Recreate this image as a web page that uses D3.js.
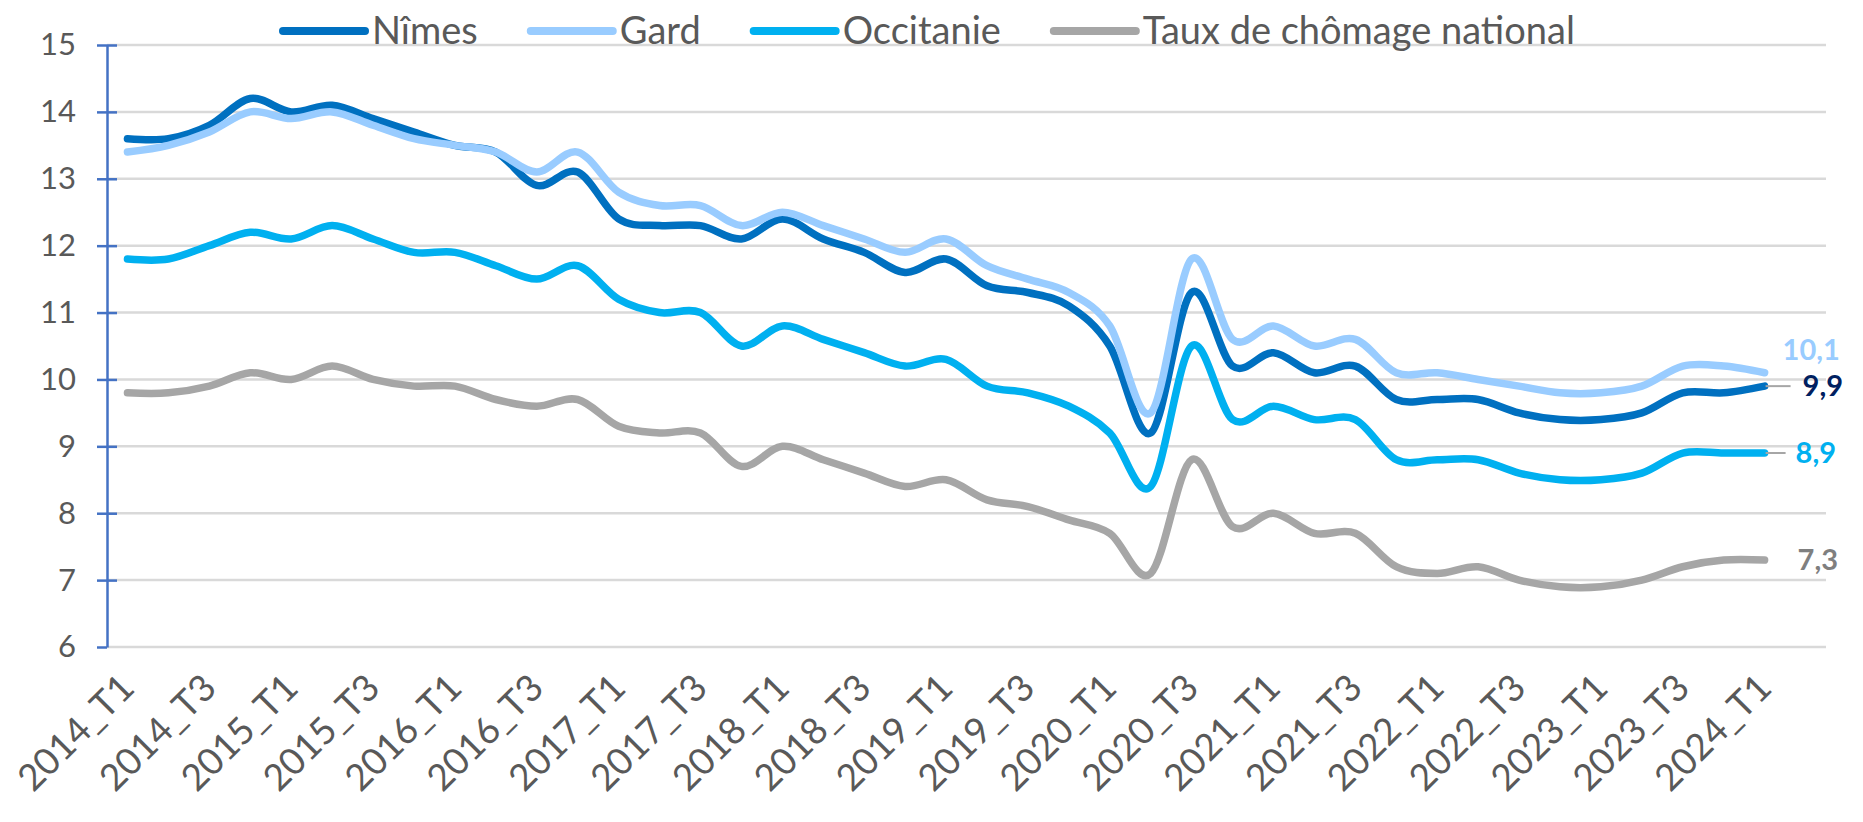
<!DOCTYPE html>
<html>
<head>
<meta charset="utf-8">
<script src="https://cdn.jsdelivr.net/npm/d3@7"></script>
<style>
  body { margin: 0; background: #fff; }
  text { font-family: Lato, "Open Sans", sans-serif; }
</style>
</head>
<body>
<svg id="chart"></svg>
<script>
// quarters on the x axis (Excel left one empty slot after the last one)
const quarters = [
  "2014_T1","2014_T2","2014_T3","2014_T4","2015_T1","2015_T2","2015_T3","2015_T4",
  "2016_T1","2016_T2","2016_T3","2016_T4","2017_T1","2017_T2","2017_T3","2017_T4",
  "2018_T1","2018_T2","2018_T3","2018_T4","2019_T1","2019_T2","2019_T3","2019_T4",
  "2020_T1","2020_T2","2020_T3","2020_T4","2021_T1","2021_T2","2021_T3","2021_T4",
  "2022_T1","2022_T2","2022_T3","2022_T4","2023_T1","2023_T2","2023_T3","2023_T4",
  "2024_T1"
];

const nimes = [13.6,13.6,13.8,14.2,14.0,14.1,13.9,13.7,13.5,13.4,12.9,13.1,12.4,12.3,12.3,12.1,
  12.4,12.1,11.9,11.6,11.8,11.4,11.3,11.1,10.5,9.2,11.3,10.2,10.4,10.1,10.2,9.7,
  9.7,9.7,9.5,9.4,9.4,9.5,9.8,9.8,9.9];
const gard = [13.4,13.5,13.7,14.0,13.9,14.0,13.8,13.6,13.5,13.4,13.1,13.4,12.8,12.6,12.6,12.3,
  12.5,12.3,12.1,11.9,12.1,11.7,11.5,11.3,10.8,9.5,11.8,10.6,10.8,10.5,10.6,10.1,
  10.1,10.0,9.9,9.8,9.8,9.9,10.2,10.2,10.1];
const occitanie = [11.8,11.8,12.0,12.2,12.1,12.3,12.1,11.9,11.9,11.7,11.5,11.7,11.2,11.0,11.0,10.5,
  10.8,10.6,10.4,10.2,10.3,9.9,9.8,9.6,9.2,8.4,10.5,9.4,9.6,9.4,9.4,8.8,
  8.8,8.8,8.6,8.5,8.5,8.6,8.9,8.9,8.9];
const national = [9.8,9.8,9.9,10.1,10.0,10.2,10.0,9.9,9.9,9.7,9.6,9.7,9.3,9.2,9.2,8.7,
  9.0,8.8,8.6,8.4,8.5,8.2,8.1,7.9,7.7,7.1,8.8,7.8,8.0,7.7,7.7,7.2,
  7.1,7.2,7.0,6.9,6.9,7.0,7.2,7.3,7.3];

const seriesNames = ["Nîmes", "Gard", "Occitanie", "Taux de chômage national"];
const seriesColors = ["#0070C0", "#99CCFF", "#00B0F0", "#A6A6A6"];
const labelColors = ["#002060", "#99CCFF", "#00B0F0", "#7F7F7F"];
const yTicks = [6, 7, 8, 9, 10, 11, 12, 13, 14, 15];

var series = [nimes, gard, occitanie, national];

var width = 1863, height = 822;
var plot = {left: 107, right: 1826, top: 45, bottom: 647};

var svg = d3.select("#chart")
    .attr("width", width)
    .attr("height", height);

var x = d3.scaleBand()
    .domain(d3.range(quarters.length + 1))
    .range([plot.left, plot.right]);
var cx = i => x(i) + x.bandwidth() / 2;

var y = d3.scaleLinear()
    .domain([6, 15])
    .range([plot.bottom, plot.top]);

// gridlines
svg.append("g")
  .selectAll("line")
  .data(yTicks)
  .join("line")
    .attr("x1", plot.left).attr("x2", plot.right)
    .attr("y1", d => y(d)).attr("y2", d => y(d))
    .style("stroke", "#D9D9D9")
    .style("stroke-width", "2.5px");

// y axis, ticks crossing the line (except the bottom one)
var yAxis = svg.append("g")
    .attr("transform", "translate(" + plot.left + ",0)")
    .call(d3.axisLeft(y).tickValues(yTicks).tickSize(10).tickSizeOuter(0).tickPadding(21));
yAxis.select(".domain").style("stroke", "#4472C4").style("stroke-width", "2.5px");
yAxis.selectAll(".tick line")
    .attr("x1", d => d === 6 ? 0 : 10)
    .style("stroke", "#4472C4").style("stroke-width", "2.5px");
yAxis.selectAll(".tick text")
    .style("font-size", "31px")
    .style("fill", "#595959");

// x labels, every second quarter, rotated
svg.append("g")
  .selectAll("text")
  .data(quarters.filter((q, i) => i % 2 === 0))
  .join("text")
    .attr("transform", d => "translate(" + (cx(quarters.indexOf(d)) + 9) + ",690) rotate(-45)")
    .attr("text-anchor", "end")
    .style("font-size", "37px")
    .style("fill", "#595959")
    .text(d => d);

// lines
var line = d3.line()
    .x((d, i) => cx(i))
    .y(d => y(d))
    .curve(d3.curveCatmullRom.alpha(0));

svg.append("g")
  .selectAll("path")
  .data(series)
  .join("path")
    .attr("d", line)
    .style("fill", "none")
    .style("stroke", (d, i) => seriesColors[i])
    .style("stroke-width", "7.5px")
    .style("stroke-linecap", "round")
    .style("stroke-linejoin", "round");

// end labels
var fr = d3.formatLocale({decimal: ",", thousands: " ", grouping: [3], currency: ["", " €"]});
var fmt = fr.format(".1f");
var last = quarters.length - 1;
var endLabels = [
  {s: 0, dx: 38, dy: 0, leader: [1, 26]},
  {s: 1, dx: 18, dy: -23},
  {s: 2, dx: 31, dy: 0, leader: [1, 21]},
  {s: 3, dx: 33, dy: 0}
];
var gl = svg.append("g");
endLabels.forEach(function(l) {
  var v = series[l.s][last];
  if (l.leader) {
    gl.append("line")
      .attr("x1", cx(last) + l.leader[0]).attr("x2", cx(last) + l.leader[1])
      .attr("y1", y(v)).attr("y2", y(v))
      .style("stroke", "#A6A6A6").style("stroke-width", "2px");
  }
  gl.append("text")
    .attr("x", cx(last) + l.dx)
    .attr("y", y(v) + l.dy)
    .attr("dy", "0.35em")
    .style("font-size", "29px")
    .style("font-weight", "bold")
    .style("fill", labelColors[l.s])
    .text(fmt(v));
});

// legend
var legend = svg.append("g").attr("transform", "translate(283,31)");
var lx = 0;
seriesNames.forEach(function(name, i) {
  var g = legend.append("g").attr("transform", "translate(" + lx + ",0)");
  g.append("line")
    .attr("x1", 0).attr("x2", 82).attr("y1", 0).attr("y2", 0)
    .style("stroke", seriesColors[i])
    .style("stroke-width", "8px")
    .style("stroke-linecap", "round");
  var t = g.append("text")
    .attr("x", 89).attr("y", 0).attr("dy", "0.35em")
    .style("font-size", "38px")
    .style("fill", "#595959")
    .text(name);
  lx += 89 + t.node().getComputedTextLength() + 53;
});
</script>
</body>
</html>
